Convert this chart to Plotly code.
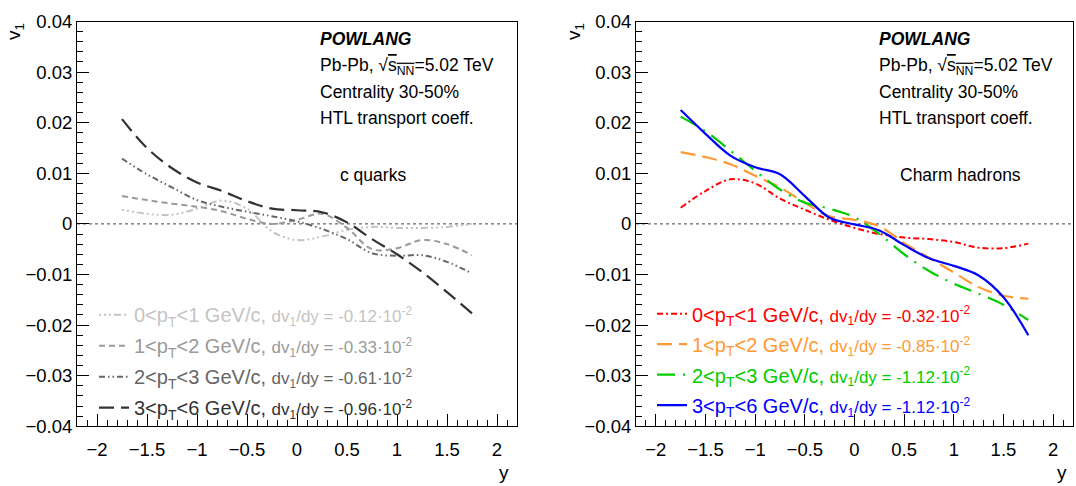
import plotly.graph_objects as go

# ---------------- data ----------------
rap = [-1.75, -1.5, -1.25, -1.0, -0.75, -0.5, -0.25, 0.0, 0.25, 0.5, 0.75, 1.0, 1.25, 1.5, 1.75]

# c quarks (left panel)
cq_pt01 = [0.0028, 0.0020, 0.0018, 0.0030, 0.0046, 0.0030, -0.0015, -0.0032, -0.0025, -0.0012, -0.0006, -0.0008, -0.0008, -0.0006, 0.0000]
cq_pt12 = [0.0055, 0.0047, 0.0040, 0.0034, 0.0025, 0.0010, 0.0000, 0.0008, 0.0020, -0.0008, -0.0050, -0.0048, -0.0032, -0.0040, -0.0062]
cq_pt23 = [0.0129, 0.0098, 0.0072, 0.0047, 0.0034, 0.0024, 0.0015, 0.0005, -0.0010, -0.0030, -0.0058, -0.0063, -0.0062, -0.0075, -0.0098]
cq_pt36 = [0.0207, 0.0150, 0.0110, 0.0082, 0.0065, 0.0045, 0.0030, 0.0027, 0.0023, 0.0003, -0.0030, -0.0060, -0.0095, -0.0135, -0.0177]

# charm hadrons (right panel)
ch_pt01 = [0.0032, 0.0065, 0.0088, 0.0080, 0.0050, 0.0028, 0.0008, -0.0008, -0.0020, -0.0027, -0.0030, -0.0036, -0.0047, -0.0048, -0.0039]
ch_pt12 = [0.0142, 0.0132, 0.0118, 0.0095, 0.0072, 0.0042, 0.0015, 0.0008, -0.0005, -0.0038, -0.0067, -0.0096, -0.0125, -0.0142, -0.0148]
ch_pt23 = [0.0212, 0.0183, 0.0145, 0.0105, 0.0068, 0.0042, 0.0030, 0.0013, -0.0020, -0.0060, -0.0093, -0.0118, -0.0138, -0.0160, -0.0190]
ch_pt36 = [0.0225, 0.0178, 0.0135, 0.0112, 0.0098, 0.0055, 0.0012, -0.0001, -0.0013, -0.0042, -0.0068, -0.0083, -0.0102, -0.0145, -0.0220]

pt_bins = ["0&lt;p<sub>T</sub>&lt;1", "1&lt;p<sub>T</sub>&lt;2", "2&lt;p<sub>T</sub>&lt;3", "3&lt;p<sub>T</sub>&lt;6"]
cq_slopes = ["-0.12", "-0.33", "-0.61", "-0.96"]
ch_slopes = ["-0.32", "-0.85", "-1.12", "-1.12"]

FONT = "Liberation Sans, Arial, Helvetica, sans-serif"

left_colors = ["#c4c4c4", "#9a9a9a", "#666666", "#333333"]
left_dash = ["2px,3px,2px,3px,2px,3px,7px,3px", "6px,4px", "6px,3px,1.5px,3px,1.5px,3px", "15px,7px"]
left_width = [2, 2, 2, 2.2]

right_colors = ["#ff0000", "#ff9933", "#00cc00", "#0000ff"]
right_dash = ["6px,3px,2px,3px", "15px,7px", "18px,8px,2px,8px", "solid"]
right_width = [2, 2.2, 2.2, 2.2]

fig = go.Figure()


def label(i, slopes, color):
    return (f"<span style='color:{color}'>{pt_bins[i]} GeV/c, "
            f"<span style='font-size:17px'>dv<sub>1</sub>/dy = {slopes[i]}·10<sup>-2</sup></span></span>")


for i, ys in enumerate([cq_pt01, cq_pt12, cq_pt23, cq_pt36]):
    fig.add_trace(go.Scatter(
        x=rap, y=ys, mode="lines", line_shape="spline",
        line=dict(color=left_colors[i], width=left_width[i], dash=left_dash[i]),
        name=label(i, cq_slopes, left_colors[i]), legendgroup=f"l{i}",
        xaxis="x", yaxis="y", legend="legend"))

for i, ys in enumerate([ch_pt01, ch_pt12, ch_pt23, ch_pt36]):
    fig.add_trace(go.Scatter(
        x=rap, y=ys, mode="lines", line_shape="spline",
        line=dict(color=right_colors[i], width=right_width[i], dash=right_dash[i]),
        name=label(i, ch_slopes, right_colors[i]), legendgroup=f"r{i}",
        xaxis="x2", yaxis="y2", legend="legend2"))

xcommon = dict(range=[-2.2, 2.2], dtick=0.5, tick0=0, ticks="inside", ticklen=12,
               tickcolor="black", tickwidth=1, showline=True, linecolor="black", linewidth=1,
               mirror=True, showgrid=False, zeroline=False, ticklabelstandoff=7,
               tickfont=dict(family=FONT, size=18.5, color="black"),
               minor=dict(ticks="inside", ticklen=6, dtick=0.1, tick0=0, tickcolor="black", showgrid=False))
ycommon = dict(range=[-0.04, 0.04], dtick=0.01, tick0=0, ticks="inside", ticklen=12,
               tickcolor="black", tickwidth=1, showline=True, linecolor="black", linewidth=1,
               mirror=True, showgrid=False, zeroline=False,
               tickfont=dict(family=FONT, size=18.5, color="black"),
               minor=dict(ticks="inside", ticklen=6, dtick=0.002, tick0=0, tickcolor="black", showgrid=False))

ydom = [1 - 434 / 486, 1 - 11 / 486]
fig.update_layout(
    width=1076, height=486,
    margin=dict(l=0, r=0, t=0, b=0),
    paper_bgcolor="white", plot_bgcolor="white",
    xaxis=dict(domain=[77 / 1076, 517 / 1076], anchor="y", **xcommon),
    yaxis=dict(domain=ydom, anchor="x", **ycommon),
    xaxis2=dict(domain=[636 / 1076, 1073 / 1076], anchor="y2", **xcommon),
    yaxis2=dict(domain=ydom, anchor="x2", **ycommon),
    legend=dict(x=94 / 1076, y=1 - 297 / 486, xanchor="left", yanchor="top",
                bgcolor="rgba(0,0,0,0)", font=dict(family=FONT, size=20, color="black"),
                tracegroupgap=2, itemwidth=30),
    legend2=dict(x=652 / 1076, y=1 - 296 / 486, xanchor="left", yanchor="top",
                 bgcolor="rgba(0,0,0,0)", font=dict(family=FONT, size=20, color="black"),
                 tracegroupgap=1.5, itemwidth=30),
    showlegend=True,
)

# dotted zero reference lines
for xr, yr in [("x domain", "y"), ("x2 domain", "y2")]:
    fig.add_shape(type="line", xref=xr, yref=yr, x0=0, x1=1, y0=0, y1=0,
                  line=dict(color="#444444", width=1, dash="dot"), layer="below")

ann = []
txt_font = dict(family=FONT, size=17.5, color="black")
for x0, lab, labx in [(318, "c quarks", 373), (877, "Charm hadrons", 960)]:
    ann += [
        dict(x=x0 / 1076, y=1 - 29 / 486, text="<b><i>POWLANG</i></b>"),
        dict(x=x0 / 1076, y=1 - 58 / 486,
             text="Pb-Pb, √<span style='text-decoration:overline'>s<sub>NN</sub></span>=5.02 TeV"),
        dict(x=x0 / 1076, y=1 - 85 / 486, text="Centrality 30-50%"),
        dict(x=x0 / 1076, y=1 - 112 / 486, text="HTL transport coeff."),
    ]
    ann.append(dict(x=labx / 1076, y=1 - 171 / 486, text=lab, xanchor="center"))

for a in ann:
    a.setdefault("xanchor", "left")
    a.update(xref="paper", yref="paper", yanchor="middle", showarrow=False, font=txt_font)

# axis titles (ROOT style: at the axis ends)
for xv, yx in [(15, 511), (575, 1069)]:
    ann.append(dict(x=xv / 1076, y=1 - 22 / 486, xref="paper", yref="paper",
                    text="v<sub>1</sub>", textangle=-90, showarrow=False,
                    xanchor="center", yanchor="middle",
                    font=dict(family=FONT, size=19, color="black")))
    ann.append(dict(x=yx / 1076, y=1 - 482 / 486, xref="paper", yref="paper",
                    text="y", showarrow=False, xanchor="right", yanchor="middle",
                    font=dict(family=FONT, size=19, color="black")))

fig.update_layout(annotations=ann)
fig.write_html("out.html")
